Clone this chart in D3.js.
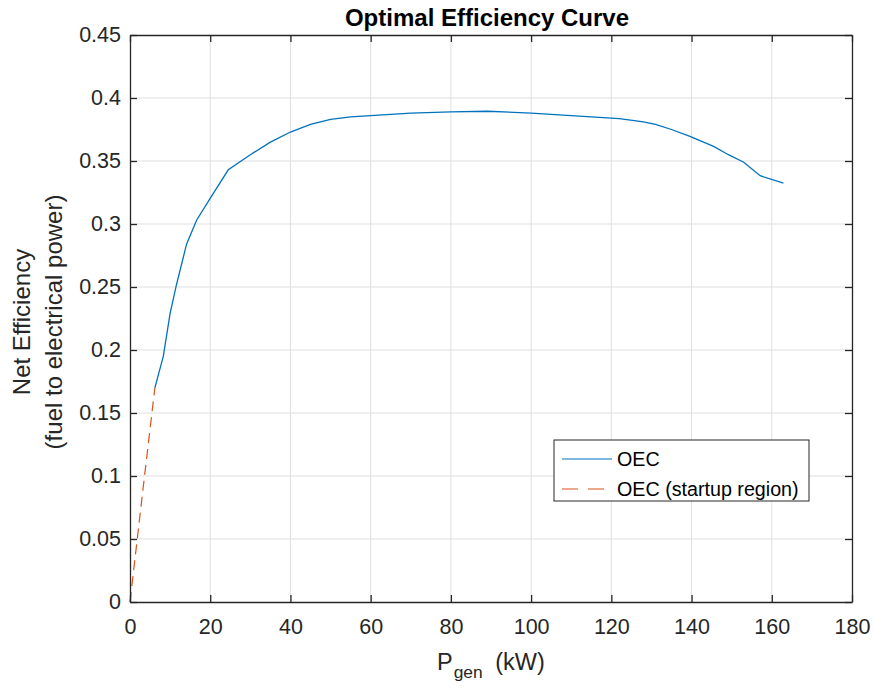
<!DOCTYPE html>
<html>
<head>
<meta charset="utf-8">
<script src="https://cdn.jsdelivr.net/npm/d3@7"></script>
<style>
  body { margin: 0; background: #fff; }
  svg { font-family: "Liberation Sans", Arial, Helvetica, sans-serif; }
</style>
</head>
<body>
<div id="chart"></div>
<script>
// OEC curve
var oecX = [6.2, 8.3, 10, 11.6, 14.1, 16.6, 20.1, 24.5, 30, 35, 40, 45, 50, 55, 60, 70, 80, 89, 100, 110, 117, 122, 128, 131, 135, 139.6, 145.5, 149.2, 153, 157.1, 162.9];
var oecY = [0.170, 0.195, 0.229, 0.252, 0.284, 0.303, 0.321, 0.343, 0.355, 0.365, 0.373, 0.379, 0.383, 0.385, 0.386, 0.388, 0.389, 0.3895, 0.388, 0.386, 0.3846, 0.3836, 0.381, 0.379, 0.375, 0.3695, 0.3616, 0.355, 0.349, 0.3383, 0.3325];
// startup region
var startX = [0, 3, 6.2];
var startY = [0, 0.083, 0.170];

var xTicks = [0, 20, 40, 60, 80, 100, 120, 140, 160, 180];
var yTicks = [0, 0.05, 0.1, 0.15, 0.2, 0.25, 0.3, 0.35, 0.4, 0.45];
var seriesNames = ["OEC", "OEC (startup region)"];

var W = 874, H = 688;
var margin = {top: 35, right: 22, bottom: 86, left: 130},
    width = W - margin.left - margin.right,
    height = H - margin.top - margin.bottom;

var blue = "#0072BD", orange = "#D95319", axisCol = "#262626";

var svg = d3.select("#chart").append("svg")
    .attr("width", W)
    .attr("height", H);

var g = svg.append("g").attr("transform", "translate(" + margin.left + "," + margin.top + ")");

var x = d3.scaleLinear().domain([0, 180]).range([0, width]);
var y = d3.scaleLinear().domain([0, 0.45]).range([height, 0]);

// grid
g.append("g").selectAll("line.gx")
    .data(xTicks.slice(1, -1))
    .enter().append("line")
    .attr("x1", function (d) { return x(d); })
    .attr("x2", function (d) { return x(d); })
    .attr("y1", 0).attr("y2", height)
    .attr("stroke", "#dfdfdf").attr("stroke-width", 1);
g.append("g").selectAll("line.gy")
    .data(yTicks.slice(1, -1))
    .enter().append("line")
    .attr("y1", function (d) { return y(d); })
    .attr("y2", function (d) { return y(d); })
    .attr("x1", 0).attr("x2", width)
    .attr("stroke", "#dfdfdf").attr("stroke-width", 1);

// data lines
var line = d3.line()
    .x(function (d) { return x(d[0]); })
    .y(function (d) { return y(d[1]); });

g.append("path")
    .datum(d3.zip(startX, startY))
    .attr("d", line)
    .attr("fill", "none")
    .attr("stroke", orange)
    .attr("stroke-width", 1.2)
    .attr("stroke-dasharray", "10,6");

g.append("path")
    .datum(d3.zip(oecX, oecY))
    .attr("d", line)
    .attr("fill", "none")
    .attr("stroke", blue)
    .attr("stroke-width", 1.3);

// axes
function styleAxis(sel) {
    sel.select(".domain").attr("stroke", axisCol).attr("stroke-width", 1.3);
    sel.selectAll(".tick line").attr("stroke", axisCol).attr("stroke-width", 1.3);
    sel.selectAll(".tick text").attr("fill", axisCol).style("font-size", "21.5px");
}

var fmt = function (d) { return String(+d.toFixed(2)); };

g.append("g")
    .attr("transform", "translate(0," + height + ")")
    .call(d3.axisBottom(x).tickValues(xTicks).tickSizeInner(-7).tickSizeOuter(0).tickPadding(17))
    .call(styleAxis);

g.append("g")
    .call(d3.axisTop(x).tickValues(xTicks).tickSizeInner(-7).tickSizeOuter(0).tickFormat(""))
    .call(styleAxis);

g.append("g")
    .call(d3.axisLeft(y).tickValues(yTicks).tickSizeInner(-7).tickSizeOuter(0).tickPadding(9).tickFormat(fmt))
    .call(styleAxis);

g.append("g")
    .attr("transform", "translate(" + width + ",0)")
    .call(d3.axisRight(y).tickValues(yTicks).tickSizeInner(-7).tickSizeOuter(0).tickFormat(""))
    .call(styleAxis);

// title
svg.append("text")
    .attr("x", 487)
    .attr("y", 26)
    .attr("text-anchor", "middle")
    .attr("font-weight", "bold")
    .attr("font-size", "24px")
    .attr("fill", "#000")
    .text("Optimal Efficiency Curve");

// x label
var xl = svg.append("text")
    .attr("x", 437)
    .attr("y", 670)
    .attr("font-size", "23.5px")
    .attr("fill", axisCol);
xl.append("tspan").text("P");
xl.append("tspan").attr("font-size", "17.4px").attr("dy", 8).attr("dx", 1).text("gen");
xl.append("tspan").attr("dy", -8).attr("dx", 6).text("\u00a0(kW)");

// y label
var yl = svg.append("text")
    .attr("transform", "translate(0,322) rotate(-90)")
    .attr("text-anchor", "middle")
    .attr("font-size", "24px")
    .attr("fill", axisCol);
yl.append("tspan").attr("x", 0).attr("y", 30).text("Net Efficiency");
yl.append("tspan").attr("x", 0).attr("y", 62).text("(fuel to electrical power)");

// legend
var lg = svg.append("g").attr("transform", "translate(554,440)");
lg.append("rect")
    .attr("width", 255).attr("height", 61)
    .attr("fill", "#fff")
    .attr("stroke", axisCol).attr("stroke-width", 1);

var items = lg.selectAll(".item")
    .data(seriesNames)
    .enter().append("g")
    .attr("transform", function (d, i) { return "translate(0," + (19 + i * 30) + ")"; });

items.append("line")
    .attr("x1", 8).attr("x2", 58)
    .attr("stroke", function (d, i) { return i === 0 ? blue : orange; })
    .attr("stroke-width", 1.2)
    .attr("stroke-dasharray", function (d, i) { return i === 0 ? null : "16,10"; });

items.append("text")
    .attr("x", 63)
    .attr("dy", "0.35em")
    .attr("font-size", "19.7px")
    .attr("fill", "#000")
    .text(function (d) { return d; });
</script>
</body>
</html>
